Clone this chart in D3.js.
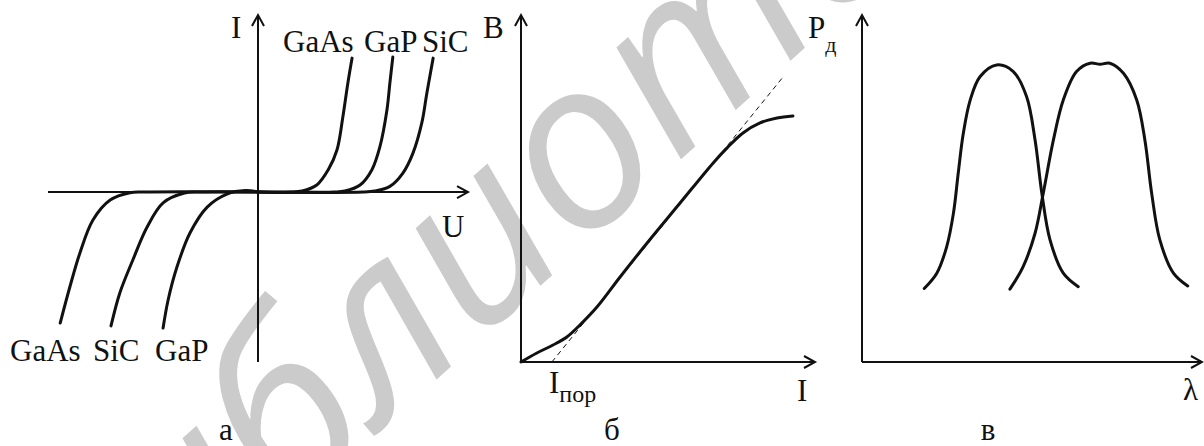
<!DOCTYPE html>
<html>
<head>
<meta charset="utf-8">
<script src="https://cdn.jsdelivr.net/npm/d3@7"></script>
<style>
body { margin: 0; background: #fff; }
</style>
</head>
<body>
<svg id="fig"></svg>
<script>
var width = 1204, height = 446;

// ---- panel а : ВАХ светодиодов (U, I in arbitrary units) ----
var fwdNames = ["GaAs", "GaP", "SiC"];
var fwdGaAs = [[0,0],[0.76,0],[1.05,0.03],[1.40,0.20],[1.67,0.63],[1.88,1.20],[2.02,2.14],[2.14,3.11],[2.24,3.82]];
var fwdGaP  = [[0,0],[1.8,0],[2.07,0.03],[2.43,0.20],[2.71,0.63],[2.90,1.28],[3.07,2.34],[3.14,3.11],[3.21,3.85]];
var fwdSiC  = [[0,0],[2.5,0],[2.78,0.03],[3.14,0.16],[3.45,0.54],[3.69,1.11],[3.90,1.97],[4.02,2.82],[4.17,3.82]];
var revNames = ["GaAs", "SiC", "GaP"];
var revGaAs = [[0,0],[-2.7,0],[-3.05,-0.02],[-3.52,-0.23],[-3.93,-0.80],[-4.24,-1.74],[-4.48,-2.71],[-4.71,-3.74]];
var revSiC  = [[0,0],[-1.4,0],[-1.75,-0.03],[-2.26,-0.31],[-2.64,-1.00],[-2.98,-1.94],[-3.29,-2.88],[-3.50,-3.82]];
var revGaP  = [[0,0],[-0.3,0.04],[-0.74,-0.06],[-1.21,-0.43],[-1.62,-1.17],[-1.93,-2.14],[-2.14,-3.08],[-2.26,-3.88]];

// ---- panel б : яркость от тока ----
var brightness = [[0,0],[0.54,0.26],[1.09,0.49],[1.56,0.72],[2.01,1.07],[2.59,1.59],[3.37,2.45],[4.29,3.43],
                  [5.41,4.58],[6.53,5.73],[7.01,6.17],[7.55,6.60],[8.13,6.89],[8.71,7.03],[9.25,7.09]];
var tangent = [[1.05,0],[8.91,8.21]];

// ---- panel в : спектры излучения ----
var spectrum1 = [[1.83,2.12],[2.20,2.56],[2.49,3.32],[2.69,4.29],[2.83,5.44],[2.98,6.59],[3.18,7.54],[3.47,8.22],
                 [3.96,8.56],[4.45,8.37],[4.84,7.65],[5.09,6.40],[5.29,4.86],[5.53,3.52],[5.92,2.56],[6.36,2.17]];
var spectrum2 = [[4.35,2.10],[4.74,2.75],[5.09,3.71],[5.33,4.86],[5.63,6.40],[5.92,7.55],[6.31,8.37],[6.71,8.61],
                 [7.00,8.58],[7.29,8.61],[7.69,8.32],[8.08,7.55],[8.32,6.40],[8.52,4.86],[8.76,3.52],[9.16,2.56],[9.58,2.19]];

var panelTitles = ["а", "б", "в"];
var watermark = "Библиотека";

var svg = d3.select("#fig").attr("width", width).attr("height", height);
svg.append("rect").attr("width", width).attr("height", height).attr("fill", "#fff");

// watermark behind everything
svg.append("text")
    .attr("transform", "translate(86,695) rotate(-42)")
    .attr("font-family", "Open Sans")
    .attr("font-style", "italic")
    .attr("font-size", 236)
    .attr("fill", "#cbcbcb")
    .text(watermark);

function arrowUp(g, x, y) {
    g.append("path").attr("d", "M" + (x - 6) + "," + (y + 11) + "L" + x + "," + y + "L" + (x + 6) + "," + (y + 11))
        .attr("fill", "none").attr("stroke", "#111").attr("stroke-width", 2);
}
function arrowRight(g, x, y) {
    g.append("path").attr("d", "M" + (x - 11) + "," + (y - 6) + "L" + x + "," + y + "L" + (x - 11) + "," + (y + 6))
        .attr("fill", "none").attr("stroke", "#111").attr("stroke-width", 2);
}
function axisLine(g, x1, y1, x2, y2) {
    g.append("line").attr("x1", x1).attr("y1", y1).attr("x2", x2).attr("y2", y2)
        .attr("stroke", "#111").attr("stroke-width", 2);
}
function label(g, x, y, s, size, anchor) {
    return g.append("text")
        .attr("x", x).attr("y", y)
        .attr("text-anchor", anchor || "start")
        .attr("font-family", "Liberation Serif")
        .attr("font-size", size || 31)
        .attr("fill", "#111")
        .text(s);
}

/* =====================  panel а =========================== */
var xa = d3.scaleLinear().domain([-5, 5]).range([48, 468]);
var ya = d3.scaleLinear().domain([-4.85, 5.05]).range([362, 15]);
var ga = svg.append("g");
axisLine(ga, xa(-5), ya(0), xa(5), ya(0));
axisLine(ga, xa(0), ya(-4.85), xa(0), ya(5.05));
arrowUp(ga, xa(0), ya(5.05));
arrowRight(ga, xa(5), ya(0));

var lineA = d3.line().x(function(d) { return xa(d[0]); }).y(function(d) { return ya(d[1]); })
    .curve(d3.curveCatmullRom.alpha(0.5));
[fwdGaAs, fwdGaP, fwdSiC, revGaAs, revSiC, revGaP].forEach(function(c) {
    ga.append("path").attr("d", lineA(c)).attr("fill", "none")
        .attr("stroke", "#111").attr("stroke-width", 3).attr("stroke-linecap", "round");
});

label(ga, xa(0) - 27, 38, "I");
label(ga, 442, 237, "U");
var topX = [283, 364, 422];
fwdNames.forEach(function(n, i) { label(ga, topX[i], 52, n); });
var botX = [10, 93, 155];
revNames.forEach(function(n, i) { label(ga, botX[i], 361, n); });
label(ga, 226, 440, panelTitles[0], 31, "middle");

/* =====================  panel б =========================== */
var xb = d3.scaleLinear().domain([0, 10]).range([521, 815]);
var yb = d3.scaleLinear().domain([0, 10]).range([362, 15]);
var gb = svg.append("g");
axisLine(gb, xb(0), yb(0), xb(10), yb(0));
axisLine(gb, xb(0), yb(0), xb(0), yb(10));
arrowUp(gb, xb(0), yb(10));
arrowRight(gb, xb(10), yb(0));

var lineB = d3.line().x(function(d) { return xb(d[0]); }).y(function(d) { return yb(d[1]); });
gb.append("path").attr("d", lineB(tangent)).attr("fill", "none")
    .attr("stroke", "#111").attr("stroke-width", 1).attr("stroke-dasharray", "5,4");
gb.append("path").attr("d", lineB.curve(d3.curveCatmullRom.alpha(0.5))(brightness)).attr("fill", "none")
    .attr("stroke", "#111").attr("stroke-width", 3).attr("stroke-linecap", "round");

label(gb, 483, 38, "B");
label(gb, 797, 401, "I");
var ipor = label(gb, 549, 393, "I");
ipor.append("tspan").attr("dy", 9).attr("font-size", 24).text("пор");
label(gb, 612, 440, panelTitles[1], 31, "middle");

/* =====================  panel в =========================== */
var xc = d3.scaleLinear().domain([0, 10]).range([862, 1202]);
var yc = d3.scaleLinear().domain([0, 10]).range([362, 15]);
var gc = svg.append("g");
axisLine(gc, xc(0), yc(0), xc(10), yc(0));
axisLine(gc, xc(0), yc(0), xc(0), yc(10));
arrowUp(gc, xc(0), yc(10));
arrowRight(gc, xc(10), yc(0));

var lineC = d3.line().x(function(d) { return xc(d[0]); }).y(function(d) { return yc(d[1]); })
    .curve(d3.curveCatmullRom.alpha(0.5));
[spectrum1, spectrum2].forEach(function(c) {
    gc.append("path").attr("d", lineC(c)).attr("fill", "none")
        .attr("stroke", "#111").attr("stroke-width", 3).attr("stroke-linecap", "round");
});

var pd = label(gc, 808, 38, "P");
pd.append("tspan").attr("dy", 14).attr("font-size", 22).text("д");
label(gc, 1183, 400, "λ");
label(gc, 988, 440, panelTitles[2], 31, "middle");
</script>
</body>
</html>
